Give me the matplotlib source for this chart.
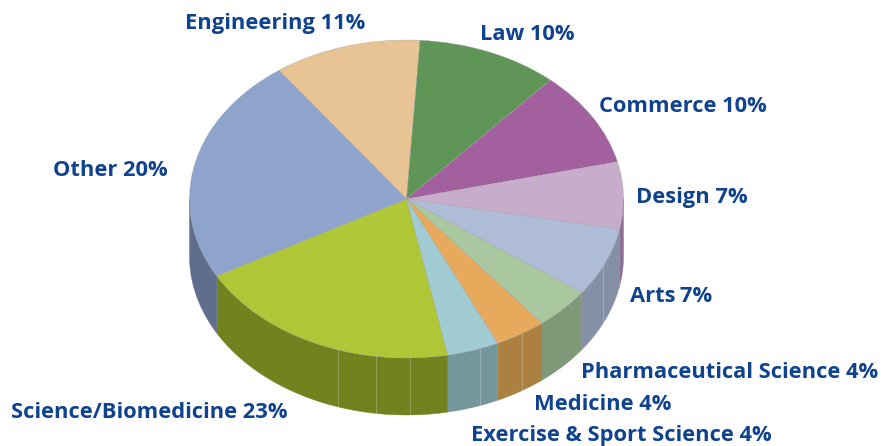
#!/usr/bin/env python

import numpy as np
import matplotlib
matplotlib.use('Agg')
import matplotlib.pyplot as plt

# text on the slices as printed, and slice sizes as drawn in the picture
labels = ['Engineering 11%', 'Law 10%', 'Commerce 10%', 'Design 7%', 'Arts\u20097%',
          'Pharmaceutical Science 4%', 'Medicine 4%', 'Exercise & Sport Science 4%',
          'Science/Biomedicine 23%', 'Other 20%']
slice_sizes = [11.0, 10.55, 9.7, 6.8, 7.0, 4.25, 3.82, 3.86, 20.0, 23.05]

top_colors = ['#E8C393', '#5F9658', '#A3609F', '#C7ADCB', '#AEBCD8',
              '#A9C8A0', '#E7A95C', '#A1CBD3', '#AFC636', '#8FA4CD']
wall_colors = ['#A08860', '#406838', '#704470', '#8C6F92', '#858FA6',
               '#7F9878', '#AB8040', '#74979C', '#72821F', '#5F6E8C']

# pixel layout of the reference
W, H = 881, 446
cx, cy, rx, ry = 406.5, 199, 217, 159
depth = 57 / ry
start = 126
seams = [338, 376, 410, 480, 522, 603]
label_x = [185, 480, 599, 636, 630, 581, 534, 471, 11, 53]
label_y = [24, 35, 106, 198, 297, 373, 404, 435, 413, 171]

fig = plt.figure(figsize=(W / 100, H / 100), dpi=100)
ax = fig.add_axes([0, 0, 1, 1])

ax.pie(slice_sizes, colors=top_colors, startangle=start, counterclock=False,
       wedgeprops={'edgecolor': '#a0a0a0', 'linewidth': 0.25}, normalize=True)
ax.set_aspect('auto')
ax.set_xlim(-cx / rx, (W - cx) / rx)
ax.set_ylim(-(H - cy) / ry, cy / ry)
ax.axis('off')

# side wall, only the part facing the viewer
edges = start - np.cumsum([0] + slice_sizes) / sum(slice_sizes) * 360
for i in range(len(slice_sizes)):
    hi = min(edges[i], 0)
    lo = max(edges[i + 1], -180)
    if hi <= lo:
        continue
    t = np.radians(np.linspace(hi, lo, 60))
    xs = np.concatenate([np.cos(t), np.cos(t[::-1])])
    ys = np.concatenate([np.sin(t), np.sin(t[::-1]) - depth])
    ax.fill(xs, ys, color=wall_colors[i], lw=0.3, zorder=0)

# thin pale seams in the wall
for px in seams:
    x = (px - cx) / rx
    y = -np.sqrt(1 - x ** 2)
    ax.plot([x, x], [y, y - depth], color='white', alpha=0.25, lw=0.7, zorder=0.5)

for name, px, py in zip(labels, label_x, label_y):
    fig.text(px / W, 1 - py / H, name, color='#0F4390', fontsize=15.75,
             family='Open Sans', weight='bold', ha='left', va='center')

fig.savefig('out.png', dpi=100)
plt.close(fig)
